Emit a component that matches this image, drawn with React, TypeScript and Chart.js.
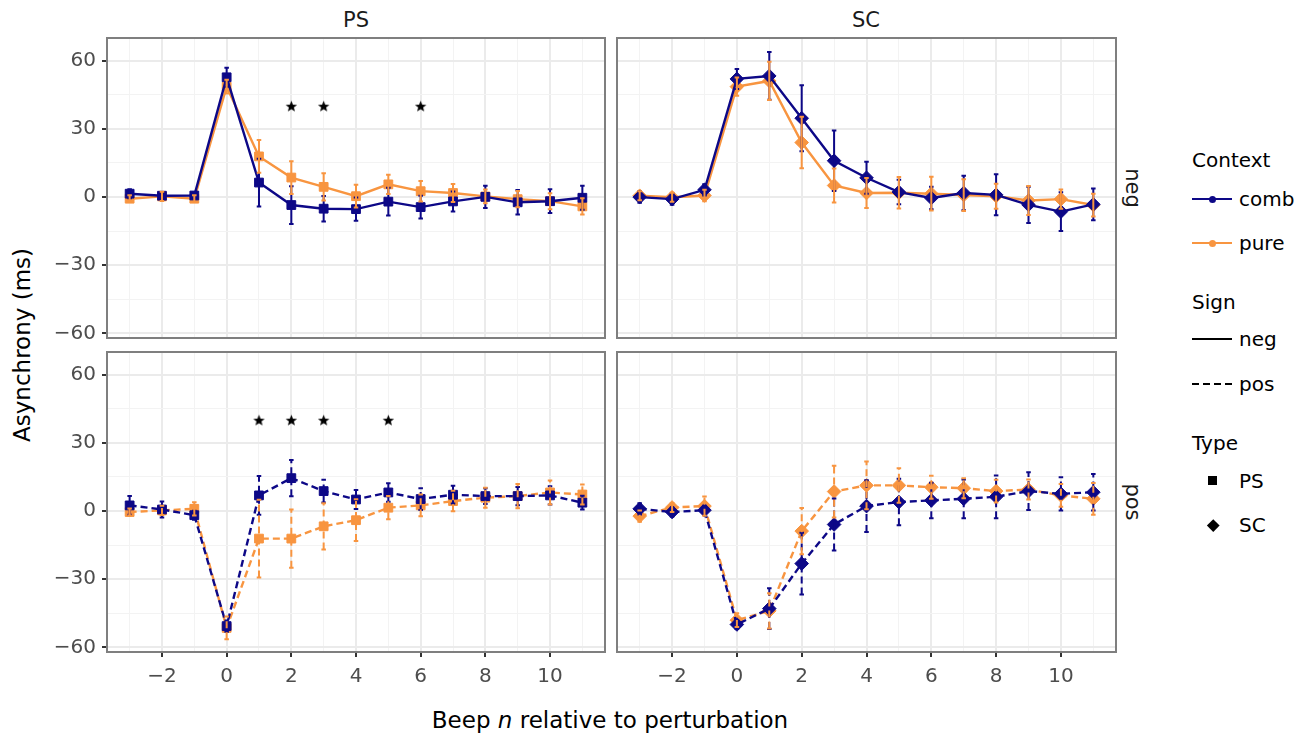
import React, { useEffect, useRef } from 'react';
import { Chart, registerables } from 'chart.js';
Chart.register(...registerables);
Chart.defaults.font.family = "'DejaVu Sans', sans-serif";

// ---------------- data ----------------
const beeps = [-3, -2, -1, 0, 1, 2, 3, 4, 5, 6, 7, 8, 9, 10, 11];
const xTickLabels = [-2, 0, 2, 4, 6, 8, 10];
const yTickLabels = [-60, -30, 0, 30, 60];

// PS, neg
const psNegComb = [1.5, 0.6, 0.7, 52.7, 6.4, -3.5, -5.1, -5.3, -2.0, -4.4, -1.9, 0.1, -2.3, -1.8, -0.3];
const psNegCombErr = [2, 1.5, 1.2, 4.2, 10.5, 8.3, 5.6, 5.1, 6.1, 5, 4.4, 4.9, 5.4, 5.2, 5.3];
const psNegPure = [-0.7, 0.3, -0.7, 48.6, 17.9, 8.6, 4.5, 0.4, 5.6, 2.6, 1.8, 0.3, -0.9, -1.8, -4.1];
const psNegPureErr = [1.5, 2, 1.5, 3, 7.2, 7.2, 6, 5, 4.2, 4.5, 4, 3, 3.6, 3.5, 3.6];

// SC, neg
const scNegComb = [0, -0.9, 3.2, 52, 53.3, 34.7, 16, 8.5, 2.2, -0.4, 1.8, 1.0, -3.4, -6.4, -3.2];
const scNegCombErr = [2.5, 2.5, 2.5, 4.4, 10.5, 14.5, 13.3, 7, 5.4, 5, 7.6, 9, 8, 8.5, 7];
const scNegPure = [0.6, -0.1, 0.7, 48.6, 51.1, 24, 5.1, 1.8, 1.9, 1.5, 0.9, 0.4, -1.5, -0.9, -3.5];
const scNegPureErr = [2, 2, 2.5, 4, 8.4, 11.3, 7.5, 6.6, 6.9, 7.4, 7, 5.5, 6.4, 4.2, 5];

// PS, pos
const psPosComb = [2.5, 0.7, -1.8, -50.6, 6.9, 14.5, 8.8, 5.1, 8.2, 5.3, 7.2, 6.6, 6.6, 6.9, 3.7];
const psPosCombErr = [4.1, 3.5, 2, 2.5, 8.5, 8, 5, 4.2, 4.1, 4.8, 3.9, 3.5, 4, 4, 3];
const psPosPure = [-0.4, 0.3, 1.0, -51.4, -12.1, -12.1, -6.7, -4.0, 1.5, 2.5, 4.4, 5.9, 6.6, 8.2, 7.3];
const psPosPureErr = [1.5, 2, 2.9, 5, 17.1, 12.8, 10.2, 9.2, 5.1, 4.8, 4.5, 4.4, 5.3, 5.3, 4.4];

// SC, pos
const scPosComb = [1.0, -0.4, 0.4, -49.9, -42.9, -23.1, -5.9, 2.2, 4.0, 4.7, 5.4, 6.3, 8.8, 7.6, 8.3];
const scPosCombErr = [2.5, 2, 2, 2, 9, 13.6, 11.4, 11.4, 10.2, 7.8, 8.5, 9.4, 8.3, 7.3, 8];
const scPosPure = [-2.2, 1.6, 2.2, -48, -43.9, -8.8, 8.6, 11.3, 11.3, 10.5, 10.1, 8.8, 9.5, 6.9, 5.4];
const scPosPureErr = [2.5, 2, 4.2, 3, 7.8, 10.2, 11.4, 10.5, 7.6, 5.1, 4.4, 5, 4.4, 5, 7];

// significance stars
const starsPSNeg = [2, 3, 6];
const starsPSPos = [1, 2, 3, 5];
const starsNone: number[] = [];
const starLevel = 40;

// ---------------- style ----------------
const COMB = '#0d0887';
const PURE = '#f89540';
const FONT = "'DejaVu Sans', sans-serif";
const X_MIN = -3.7, X_MAX = 11.7, Y_MIN = -62, Y_MAX = 70;

const fmt = (v: number) => (v < 0 ? '\u2212' + Math.abs(v) : String(v));

let starImg: HTMLCanvasElement | null = null;
function getStar() {
  if (starImg) return starImg;
  const c = document.createElement('canvas');
  c.width = 13; c.height = 13;
  const g = c.getContext('2d')!;
  g.beginPath();
  for (let i = 0; i < 10; i++) {
    const r = i % 2 === 0 ? 6 : 2.6;
    const a = -Math.PI / 2 + (i * Math.PI) / 5;
    const px = 6.5 + r * Math.cos(a), py = 7 + r * Math.sin(a);
    if (i === 0) g.moveTo(px, py); else g.lineTo(px, py);
  }
  g.closePath();
  g.fillStyle = '#000';
  g.fill();
  starImg = c;
  return c;
}

const errorBarPlugin = {
  id: 'errbars',
  afterDatasetsDraw(chart: any) {
    const ctx = chart.ctx;
    const xs = chart.scales.x, ys = chart.scales.y;
    chart.data.datasets.forEach((ds: any) => {
      if (!ds.errs) return;
      ctx.save();
      ctx.strokeStyle = ds.borderColor;
      ctx.lineWidth = 2;
      ctx.setLineDash(ds.borderDash || []);
      ds.data.forEach((p: any, j: number) => {
        const e = ds.errs[j];
        const x = xs.getPixelForValue(p.x);
        const xl = xs.getPixelForValue(p.x - 0.07);
        const xr = xs.getPixelForValue(p.x + 0.07);
        const y1 = ys.getPixelForValue(p.y - e);
        const y2 = ys.getPixelForValue(p.y + e);
        ctx.beginPath();
        ctx.moveTo(x, y1); ctx.lineTo(x, y2);
        ctx.moveTo(xl, y1); ctx.lineTo(xr, y1);
        ctx.moveTo(xl, y2); ctx.lineTo(xr, y2);
        ctx.stroke();
      });
      ctx.restore();
    });
  },
};

const borderPlugin = {
  id: 'panelBorder',
  afterDraw(chart: any) {
    const a = chart.chartArea;
    const ctx = chart.ctx;
    ctx.save();
    ctx.strokeStyle = '#7f7f7f';
    ctx.lineWidth = 2;
    ctx.setLineDash([]);
    ctx.strokeRect(a.left, a.top, a.right - a.left, a.bottom - a.top);
    ctx.restore();
  },
};

type PanelProps = {
  left: number; top: number; width: number; height: number;
  comb: number[]; combErr: number[]; pure: number[]; pureErr: number[];
  stars: number[]; shape: string; dashed: boolean; showX: boolean; showY: boolean;
};

function Panel(p: PanelProps) {
  const ref = useRef<HTMLCanvasElement>(null);
  useEffect(() => {
    const dash = p.dashed ? [7, 4] : [];
    const radius = p.shape === 'rect' ? 6.2 : 6.8;
    const mk = (label: string, vals: number[], errs: number[], color: string) => ({
      label,
      data: beeps.map((x, i) => ({ x, y: vals[i] })),
      errs,
      borderColor: color,
      backgroundColor: color,
      borderWidth: 2.4,
      borderDash: dash,
      pointStyle: p.shape,
      pointRadius: radius,
      pointBorderWidth: 1,
      pointBorderColor: color,
      pointBackgroundColor: color,
      tension: 0,
    });
    const chart = new Chart(ref.current!, {
      type: 'line',
      data: {
        datasets: [
          mk('comb', p.comb, p.combErr, COMB),
          mk('pure', p.pure, p.pureErr, PURE),
          {
            label: 'stars',
            data: p.stars.map((x) => ({ x, y: starLevel })),
            showLine: false,
            pointStyle: getStar(),
            pointRadius: 6,
            borderColor: '#000',
            backgroundColor: '#000',
          } as any,
        ],
      },
      options: {
        responsive: false,
        animation: false,
        devicePixelRatio: 1,
        layout: {
          autoPadding: false,
          padding: { left: p.showY ? 0 : 2, right: 2, top: 2, bottom: p.showX ? 0 : 2 },
        },
        plugins: { legend: { display: false }, tooltip: { enabled: false } },
        scales: {
          x: {
            type: 'linear',
            min: X_MIN,
            max: X_MAX,
            afterBuildTicks: (s: any) => { s.ticks = beeps.map((v) => ({ value: v })); },
            afterFit: (s: any) => {
              s.height = p.showX ? 40 : 0;
              s.paddingLeft = 0; s.paddingRight = 0; s.paddingTop = 0; s.paddingBottom = 0;
            },
            border: { display: false },
            ticks: {
              display: p.showX,
              autoSkip: false,
              maxRotation: 0,
              padding: 8,
              color: '#4d4d4d',
              font: { size: 20, family: FONT },
              callback: (v: any) => (xTickLabels.includes(v) ? fmt(v) : ''),
            },
            grid: {
              drawTicks: p.showX,
              tickLength: 5,
              color: (c: any) => (c.tick && Math.abs(c.tick.value) % 2 === 0 ? '#ebebeb' : '#f3f3f3'),
              lineWidth: (c: any) => (c.tick && Math.abs(c.tick.value) % 2 === 0 ? 2 : 1),
              tickColor: (c: any) => (c.tick && Math.abs(c.tick.value) % 2 === 0 ? '#333333' : 'rgba(0,0,0,0)'),
              tickWidth: 2,
            },
          },
          y: {
            type: 'linear',
            min: Y_MIN,
            max: Y_MAX,
            afterBuildTicks: (s: any) => {
              const t = [];
              for (let v = -60; v <= 60; v += 15) t.push({ value: v });
              s.ticks = t;
            },
            afterFit: (s: any) => {
              s.width = p.showY ? 67 : 0;
              s.paddingLeft = 0; s.paddingRight = 0; s.paddingTop = 0; s.paddingBottom = 0;
            },
            border: { display: false },
            ticks: {
              display: p.showY,
              autoSkip: false,
              padding: 6,
              color: '#4d4d4d',
              font: { size: 20, family: FONT },
              callback: (v: any) => (yTickLabels.includes(v) ? fmt(v) : ''),
            },
            grid: {
              drawTicks: p.showY,
              tickLength: 5,
              color: (c: any) => (c.tick && Math.abs(c.tick.value) % 30 === 0 ? '#ebebeb' : '#f3f3f3'),
              lineWidth: (c: any) => (c.tick && Math.abs(c.tick.value) % 30 === 0 ? 2 : 1),
              tickColor: (c: any) => (c.tick && Math.abs(c.tick.value) % 30 === 0 ? '#333333' : 'rgba(0,0,0,0)'),
              tickWidth: 2,
            },
          },
        },
      } as any,
      plugins: [errorBarPlugin, borderPlugin],
    });
    return () => chart.destroy();
  }, []);
  return (
    <canvas
      ref={ref}
      width={p.width}
      height={p.height}
      style={{ position: 'absolute', left: p.left, top: p.top, width: p.width, height: p.height }}
    />
  );
}

const txt = (extra: React.CSSProperties): React.CSSProperties => ({
  position: 'absolute',
  lineHeight: 1,
  whiteSpace: 'nowrap',
  fontFamily: FONT,
  ...extra,
});

function Legend() {
  const lx = 1192;
  const labelX = 1239;
  const size = 20;
  const rows: React.ReactNode[] = [];
  const title = (t: string, y: number) =>
    rows.push(<div key={t} style={txt({ left: lx, top: y, transform: 'translateY(-50%)', fontSize: size, color: '#000' })}>{t}</div>);
  const label = (t: string, y: number) =>
    rows.push(<div key={'l' + t} style={txt({ left: labelX, top: y, transform: 'translateY(-50%)', fontSize: size, color: '#000' })}>{t}</div>);

  title('Context', 160);
  [['comb', COMB, 199], ['pure', PURE, 243]].forEach(([n, c, y]: any) => {
    rows.push(<div key={'ln' + n} style={{ position: 'absolute', left: lx, top: y - 1, width: 40, height: 2, background: c }} />);
    rows.push(<div key={'dt' + n} style={{ position: 'absolute', left: lx + 20 - 3.5, top: y - 3.5, width: 7, height: 7, borderRadius: '50%', background: c }} />);
    label(n, y);
  });
  title('Sign', 302);
  rows.push(<div key="sneg" style={{ position: 'absolute', left: lx, top: 338, width: 40, height: 2, background: '#000' }} />);
  label('neg', 339);
  rows.push(<div key="spos" style={{ position: 'absolute', left: lx, top: 383, width: 40, height: 2, background: 'repeating-linear-gradient(to right, #000 0 7px, transparent 7px 11px)' }} />);
  label('pos', 384);
  title('Type', 443);
  rows.push(<div key="tps" style={{ position: 'absolute', left: 1208, top: 476, width: 9, height: 9, background: '#000' }} />);
  label('PS', 481);
  rows.push(<div key="tsc" style={{ position: 'absolute', left: 1208.5, top: 521, width: 8.5, height: 8.5, background: '#000', transform: 'rotate(45deg)' }} />);
  label('SC', 525);
  return <>{rows}</>;
}

export default function App() {
  useEffect(() => {
    document.body.style.margin = '0';
  }, []);
  return (
    <div style={{ position: 'fixed', left: 0, top: 0, width: 1311, height: 733, background: '#fff', overflow: 'hidden' }}>
      <Panel left={40} top={36} width={567} height={304} comb={psNegComb} combErr={psNegCombErr} pure={psNegPure} pureErr={psNegPureErr} stars={starsPSNeg} shape="rect" dashed={false} showX={false} showY={true} />
      <Panel left={615} top={36} width={503} height={304} comb={scNegComb} combErr={scNegCombErr} pure={scNegPure} pureErr={scNegPureErr} stars={starsNone} shape="rectRot" dashed={false} showX={false} showY={false} />
      <Panel left={40} top={350} width={567} height={342} comb={psPosComb} combErr={psPosCombErr} pure={psPosPure} pureErr={psPosPureErr} stars={starsPSPos} shape="rect" dashed={true} showX={true} showY={true} />
      <Panel left={615} top={350} width={503} height={342} comb={scPosComb} combErr={scPosCombErr} pure={scPosPure} pureErr={scPosPureErr} stars={starsNone} shape="rectRot" dashed={true} showX={true} showY={false} />

      <div style={txt({ left: 356, top: 20, transform: 'translate(-50%,-50%)', fontSize: 21, color: '#1a1a1a' })}>PS</div>
      <div style={txt({ left: 866, top: 20, transform: 'translate(-50%,-50%)', fontSize: 21, color: '#1a1a1a' })}>SC</div>
      <div style={txt({ left: 1132, top: 188, transform: 'translate(-50%,-50%) rotate(90deg)', fontSize: 21, color: '#1a1a1a' })}>neg</div>
      <div style={txt({ left: 1132, top: 502, transform: 'translate(-50%,-50%) rotate(90deg)', fontSize: 21, color: '#1a1a1a' })}>pos</div>

      <div style={txt({ left: 22, top: 345, transform: 'translate(-50%,-50%) rotate(-90deg)', fontSize: 23, color: '#000' })}>Asynchrony (ms)</div>
      <div style={txt({ left: 610, top: 720, transform: 'translate(-50%,-50%)', fontSize: 23, color: '#000' })}>
        Beep <i>n</i> relative to perturbation
      </div>
      <Legend />
    </div>
  );
}
